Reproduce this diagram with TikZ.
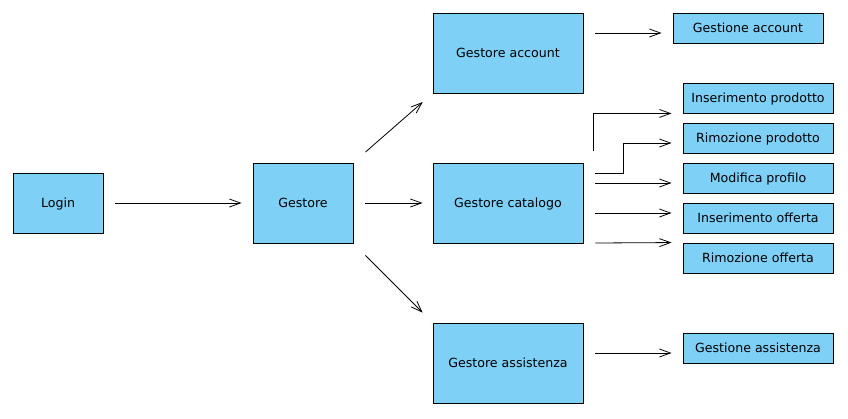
\documentclass[tikz,border=0pt]{standalone}
\usepackage{fontspec}
\setmainfont{DejaVu Sans}
\usetikzlibrary{arrows.meta}
\definecolor{boxblue}{RGB}{126,208,246}
\tikzset{
  box/.style={draw, fill=boxblue, line width=0.9pt, inner sep=0pt, text height=9pt, text depth=0pt, font=\fontsize{12.6}{15}\selectfont},
  bigbox/.style={box, minimum width=150pt, minimum height=80pt},
  smallbox/.style={box, minimum width=150pt, minimum height=30pt},
  arr/.style={-{Straight Barb[length=11pt,width=8pt]}, line width=0.8pt}
}

\begin{document}
\begin{tikzpicture}[x=1pt,y=-1pt]
\useasboundingbox (0,0) rectangle (848,418);
% main boxes
\node[box, minimum width=90pt, minimum height=60pt] (login) at (58,203) {Login};
\node[box, minimum width=100pt, minimum height=80pt] (gestore) at (303,203) {Gestore};
\node[bigbox] (account) at (508,53) {Gestore account};
\node[bigbox] (catalogo) at (508,203) {Gestore catalogo};
\node[bigbox] (assistenza) at (508,363) {Gestore assistenza};
% functions
\node[smallbox] (gacc) at (748,28) {Gestione account};
\node[smallbox] (insprod) at (758,98) {Inserimento prodotto};
\node[smallbox] (remprod) at (758,138) {Rimozione prodotto};
\node[smallbox] (modprof) at (758,178) {Modifica profilo};
\node[smallbox] (insoff) at (758,218) {Inserimento offerta};
\node[smallbox] (remoff) at (758,258) {Rimozione offerta};
\node[smallbox] (gass) at (758,348) {Gestione assistenza};
% connectors
\draw[arr, shorten <=12pt, shorten >=11pt] (login.east) -- (gestore.west);
\draw[arr, shorten <=16pt, shorten >=13pt] (gestore.north east) -- (account.south west);
\draw[arr, shorten <=12pt, shorten >=10pt] (gestore.east) -- (catalogo.west);
\draw[arr, shorten <=17pt, shorten >=14pt] (gestore.south east) -- (assistenza.north west);
\draw[arr] ([shift={(12,-20)}]account.east) -- ([shift={(-11,5)}]gacc.west);
\draw[arr] ([shift={(10,-52)}]catalogo.east) |- ([xshift=-11pt]insprod.south west);
\draw[arr] ([shift={(12,-30)}]catalogo.east) -- ++(28,0) |- ([shift={(-11,5)}]remprod.west);
\draw[arr] ([shift={(12,-20)}]catalogo.east) -- ([shift={(-11,5)}]modprof.west);
\draw[arr] ([shift={(12,10)}]catalogo.east) -- ([shift={(-11,-5)}]insoff.west);
\draw[arr] ([shift={(12,40)}]catalogo.east) -- ([xshift=-11pt]remoff.north west);
\draw[arr] ([shift={(12,-10)}]assistenza.east) -- ([shift={(-11,5)}]gass.west);
\end{tikzpicture}
\end{document}
